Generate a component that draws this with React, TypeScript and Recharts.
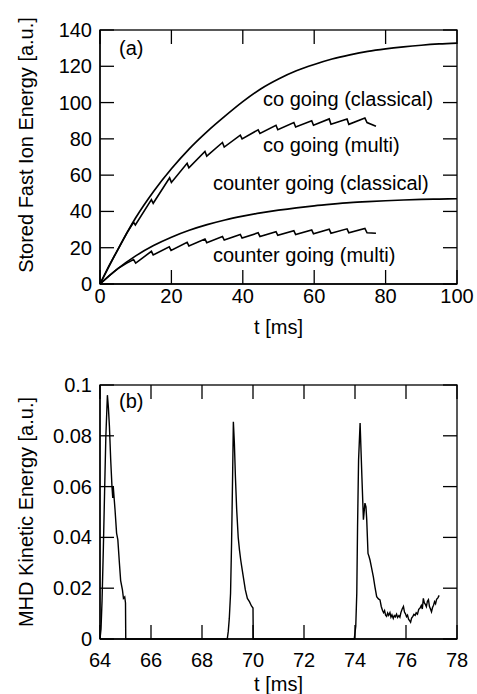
import React from 'react';
import { LineChart, Line, XAxis, YAxis } from 'recharts';

const FONT = '"Liberation Sans", Arial, Helvetica, sans-serif';

// (a) stored fast ion energy
const classicalT = [0, 5, 10, 15, 20, 25, 30, 35, 40, 45, 50, 55, 60, 65, 70, 75, 80, 85, 90, 95, 100];
const coClassicalE = [0, 19, 36.5, 51, 63.5, 74.5, 84, 92.5, 100.5, 107.5, 113, 117.5, 121, 124, 126.3, 128.2, 129.6, 130.7, 131.6, 132.3, 132.8];
const counterClassicalE = [0, 8.5, 15.5, 21.2, 25.8, 29.6, 32.7, 35.3, 37.4, 39.2, 40.7, 42, 43.1, 44, 44.8, 45.4, 45.9, 46.3, 46.6, 46.8, 47];

const coMultiT = [0, 2.5, 5, 7.5, 9.4, 9.9, 14.4, 14.9, 19.5, 20, 24.4, 24.9, 29.4, 29.9, 34.3, 34.8, 39.3, 39.8, 44.3, 44.8, 49.3, 49.8, 54.3, 54.8, 59.3, 59.8, 64.2, 64.7, 69.2, 69.7, 74.2, 74.8, 77.3];
const coMultiE = [0, 10, 19, 28, 34, 32.5, 46.5, 44.5, 58.5, 56, 66.5, 64, 73, 70.5, 78, 75.5, 82, 80, 85, 83, 87.5, 85, 89, 86.5, 90, 87.5, 91, 88, 91, 88, 91.5, 89, 87];

const counterMultiT = [0, 2.5, 5, 7.5, 9.4, 10, 14.4, 14.9, 19.4, 19.9, 24.4, 24.9, 29.4, 29.9, 34.3, 34.8, 39.3, 39.8, 44.3, 44.8, 49.3, 49.8, 54.3, 54.8, 59.3, 59.8, 64.2, 64.7, 69.2, 69.7, 74.2, 74.8, 77.3];
const counterMultiE = [0, 4.5, 8.5, 11.5, 13.5, 11.5, 18, 16, 20.5, 18.5, 23, 21, 24.8, 22.8, 26.2, 24.2, 27.3, 25.3, 28.2, 26.2, 28.8, 26.8, 29.4, 27.3, 29.8, 27.7, 30.2, 28, 30.4, 28.2, 30.6, 28.2, 28];

const energyTicks = [0, 20, 40, 60, 80, 100, 120, 140];
const timeTicksA = [0, 20, 40, 60, 80, 100];

// (b) MHD kinetic energy
const mhdT = [
  64.0, 64.04, 64.08, 64.13, 64.18, 64.23, 64.29, 64.33, 64.37, 64.42, 64.47, 64.5, 64.52, 64.55, 64.59, 64.65, 64.7, 64.76, 64.81, 64.88, 64.92, 64.97, 65.0, 65.01,
  68.99, 69.03, 69.07, 69.12, 69.16, 69.2, 69.23, 69.27, 69.31, 69.36, 69.42, 69.47, 69.52, 69.55, 69.62, 69.7, 69.78, 69.86, 69.94, 70.0, 70.01,
  73.97, 74.03, 74.07, 74.1, 74.14, 74.2, 74.24, 74.27, 74.33, 74.39, 74.43, 74.46, 74.51, 74.55, 74.59, 74.65, 74.72, 74.78, 74.85, 74.92,
  74.98, 75.03, 75.08, 75.12, 75.16, 75.2, 75.24, 75.28, 75.32, 75.37, 75.41, 75.45, 75.5, 75.54, 75.58, 75.63, 75.67, 75.72, 75.76, 75.8,
  75.85, 75.9, 75.94, 75.98, 76.02, 76.06, 76.1, 76.14, 76.18, 76.22, 76.27, 76.31, 76.36, 76.4, 76.45, 76.5, 76.55, 76.6, 76.64, 76.68,
  76.72, 76.76, 76.8, 76.84, 76.88, 76.92, 76.96, 77.0, 77.04, 77.08, 77.12, 77.16, 77.2, 77.25, 77.3,
];
const mhdE = [
  0, 0.004, 0.015, 0.035, 0.058, 0.08, 0.096, 0.091, 0.0836, 0.0705, 0.06, 0.0555, 0.06, 0.056, 0.0508, 0.0417, 0.039, 0.03, 0.023, 0.0193, 0.016, 0.0166, 0.0142, 0,
  0, 0.003, 0.008, 0.018, 0.038, 0.064, 0.0855, 0.077, 0.064, 0.051, 0.04, 0.035, 0.031, 0.029, 0.0245, 0.0193, 0.016, 0.0147, 0.013, 0.0122, 0,
  0, 0.005, 0.018, 0.044, 0.0705, 0.085, 0.073, 0.064, 0.047, 0.0535, 0.052, 0.047, 0.0337, 0.0325, 0.031, 0.028, 0.0245, 0.0206, 0.0167, 0.0158,
  0.0154, 0.0128, 0.0112, 0.0104, 0.0112, 0.0094, 0.0089, 0.0102, 0.0093, 0.0104, 0.0086, 0.0095, 0.0081, 0.0092, 0.0087, 0.0098, 0.0085, 0.0092, 0.0086, 0.0104,
  0.0118, 0.0128, 0.0106, 0.0099, 0.0088, 0.0094, 0.0078, 0.0072, 0.0066, 0.0082, 0.0089, 0.0097, 0.0093, 0.0103, 0.0098, 0.0117, 0.0122, 0.0132, 0.0118, 0.016,
  0.0142, 0.0136, 0.0127, 0.0149, 0.0155, 0.0128, 0.0118, 0.0107, 0.0124, 0.0133, 0.0147, 0.0139, 0.0156, 0.0162, 0.0172,
];
const mhdTicks = [0, 0.02, 0.04, 0.06, 0.08, 0.1];
const timeTicksB = [64, 66, 68, 70, 72, 74, 76, 78];

const toPts = (ts: number[], es: number[]) => ts.map((t, i) => ({ t, e: es[i] }));

const coClassical = toPts(classicalT, coClassicalE);
const counterClassical = toPts(classicalT, counterClassicalE);
const coMulti = toPts(coMultiT, coMultiE);
const counterMulti = toPts(counterMultiT, counterMultiE);
const mhd = toPts(mhdT, mhdE);

const txt = { fontSize: 20, fill: '#000', fontFamily: FONT };
const INK = '#000';
const TICK = 14;

// labels plus inward marks on bottom/top and left/right edges
const BottomTickA = (p: any) => (
  <g>
    <line x1={p.x} x2={p.x} y1={p.y} y2={p.y - TICK} stroke={INK} strokeWidth={1.3} />
    <line x1={p.x} x2={p.x} y1={30} y2={30 + TICK} stroke={INK} strokeWidth={1.3} />
    <text {...txt} x={p.x} y={p.y + 19.3} textAnchor="middle">{p.payload.value}</text>
  </g>
);
const BottomTickB = (p: any) => (
  <g>
    <line x1={p.x} x2={p.x} y1={p.y} y2={p.y - TICK} stroke={INK} strokeWidth={1.3} />
    <line x1={p.x} x2={p.x} y1={40} y2={40 + TICK} stroke={INK} strokeWidth={1.3} />
    <text {...txt} x={p.x} y={p.y + 28.3} textAnchor="middle">{p.payload.value}</text>
  </g>
);
const LeftTick = (p: any) => (
  <g>
    <line x1={p.x} x2={p.x + TICK} y1={p.y} y2={p.y} stroke={INK} strokeWidth={1.3} />
    <line x1={457} x2={457 - TICK} y1={p.y} y2={p.y} stroke={INK} strokeWidth={1.3} />
    <text {...txt} x={p.x - 8} y={p.y + 7} textAnchor="end">{p.payload.value}</text>
  </g>
);

const axisLine = { stroke: INK, strokeWidth: 1.3 };

export default function App() {
  return (
    <div style={{ position: 'absolute', left: 0, top: 0, width: 477, height: 694 }}>
      <div style={{ position: 'absolute', left: 0, top: 0 }}>
        <LineChart width={477} height={345} margin={{ top: 30, right: 20, bottom: 31, left: 40 }} data={coClassical}>
          <XAxis xAxisId="b" dataKey="t" type="number" domain={[0, 100]} ticks={timeTicksA} interval={0}
            tickSize={0} tickMargin={0} height={30} stroke={INK} axisLine={axisLine} tick={BottomTickA} />
          <YAxis yAxisId="l" type="number" domain={[0, 140]} ticks={energyTicks} interval={0}
            tickSize={0} tickMargin={0} width={60} stroke={INK} axisLine={axisLine} tick={LeftTick} />
          <Line xAxisId="b" yAxisId="l" dataKey="e" data={coClassical} type="monotone" stroke="#000" strokeWidth={1.7} dot={false} isAnimationActive={false} />
          <Line xAxisId="b" yAxisId="l" dataKey="e" data={counterClassical} type="monotone" stroke="#000" strokeWidth={1.7} dot={false} isAnimationActive={false} />
          <Line xAxisId="b" yAxisId="l" dataKey="e" data={coMulti} stroke="#000" strokeWidth={1.6} dot={false} isAnimationActive={false} />
          <Line xAxisId="b" yAxisId="l" dataKey="e" data={counterMulti} stroke="#000" strokeWidth={1.6} dot={false} isAnimationActive={false} />
        </LineChart>
      </div>
      <div style={{ position: 'absolute', left: 0, top: 345 }}>
        <LineChart width={477} height={349} margin={{ top: 40, right: 20, bottom: 25, left: 40 }} data={mhd}>
          <XAxis xAxisId="b" dataKey="t" type="number" domain={[64, 78]} ticks={timeTicksB} interval={0}
            tickSize={0} tickMargin={0} height={30} stroke={INK} axisLine={axisLine} tick={BottomTickB} />
          <YAxis yAxisId="l" type="number" domain={[0, 0.1]} ticks={mhdTicks} interval={0}
            tickSize={0} tickMargin={0} width={60} stroke={INK} axisLine={axisLine} tick={LeftTick} />
          <Line xAxisId="b" yAxisId="l" dataKey="e" data={mhd} stroke="#000" strokeWidth={1.4} dot={false} isAnimationActive={false} />
        </LineChart>
      </div>
      <svg width={477} height={694} style={{ position: 'absolute', left: 0, top: 0, pointerEvents: 'none' }}>
        {/* closing top and right edges of both boxes */}
        <rect x={100} y={30} width={357} height={254} fill="none" stroke={INK} strokeWidth={1.3} />
        <rect x={100} y={385} width={357} height={254} fill="none" stroke={INK} strokeWidth={1.3} />

        <text {...txt} x={33} y={145} textAnchor="middle" transform="rotate(-90 33 145)">Stored Fast Ion Energy [a.u.]</text>
        <text {...txt} x={278.5} y={334} textAnchor="middle">t [ms]</text>
        <text {...txt} x={119} y={55}>(a)</text>
        <text {...txt} x={263} y={106}>co going (classical)</text>
        <text {...txt} x={263} y={152}>co going (multi)</text>
        <text {...txt} x={213} y={190}>counter going (classical)</text>
        <text {...txt} x={213} y={262}>counter going (multi)</text>

        <text {...txt} x={33} y={512} textAnchor="middle" transform="rotate(-90 33 512)">MHD Kinetic Energy [a.u.]</text>
        <text {...txt} x={278.5} y={691} textAnchor="middle">t [ms]</text>
        <text {...txt} x={119} y={408}>(b)</text>
      </svg>
    </div>
  );
}
